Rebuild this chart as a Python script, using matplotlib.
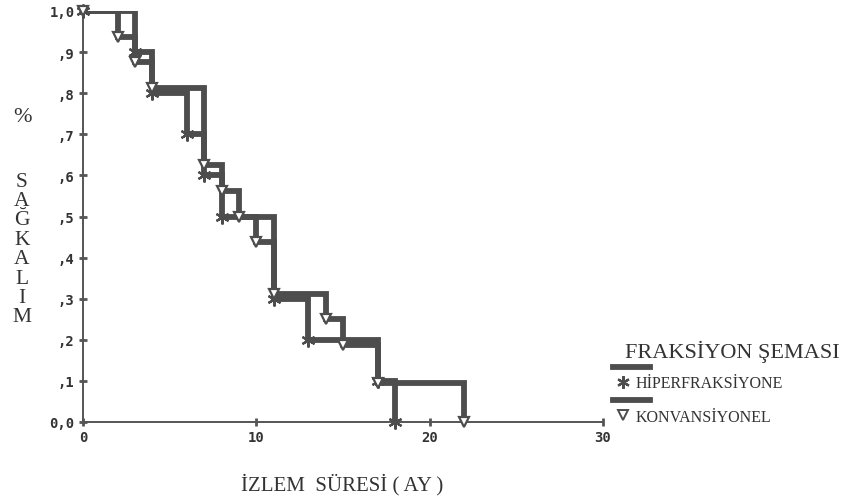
import matplotlib
matplotlib.use("Agg")
import matplotlib.pyplot as plt
from matplotlib.lines import Line2D

# Data: Kaplan-Meier steps
hiper_t = [0, 3, 4, 6, 7, 8, 11, 13, 17, 18]
hiper_s = [1.0, 0.9, 0.8, 0.7, 0.6, 0.5, 0.3, 0.2, 0.1, 0.0]
konv_t = [0, 2, 3, 4, 7, 8, 9, 10, 11, 14, 15, 17, 22]
konv_s = [1.0, 0.9375, 0.875, 0.8125, 0.625, 0.5625, 0.5, 0.4375, 0.3125, 0.25, 0.1875, 0.09375, 0.0]

x_ticks = [0, 10, 20, 30]
y_ticks = [0.0, 0.1, 0.2, 0.3, 0.4, 0.5, 0.6, 0.7, 0.8, 0.9, 1.0]
y_ticklabels = ["0,0", ",1", ",2", ",3", ",4", ",5", ",6", ",7", ",8", ",9", "1,0"]

LINE = "#4d4d4d"
AX = "#555555"
SERIF = ["Liberation Serif", "DejaVu Serif"]

fig = plt.figure(figsize=(8.43, 5.02), dpi=100)
ax = fig.add_axes([83 / 843, 1 - 423 / 502, 520 / 843, 411 / 502])

for t, s, mk, ms in [(hiper_t, hiper_s, (6, 2, 0), 10), (konv_t, konv_s, "v", 7)]:
    ax.step(t, s, where="post", color=LINE, lw=4.2, solid_joinstyle="miter",
            solid_capstyle="butt", zorder=3)
    ax.plot(t, s, linestyle="none", marker=mk, markersize=ms, color=LINE,
            markerfacecolor="white" if mk == "v" else LINE,
            markeredgewidth=1.6, zorder=4, clip_on=False)

ax.set_xlim(0, 30)
ax.set_ylim(0, 1.0)
ax.set_xticks(x_ticks)
ax.set_xticklabels([str(v) for v in x_ticks])
ax.set_yticks(y_ticks)
ax.set_yticklabels(y_ticklabels)
for sp in ["top", "right"]:
    ax.spines[sp].set_visible(False)
for sp in ["left", "bottom"]:
    ax.spines[sp].set_color(AX)
    ax.spines[sp].set_linewidth(1.4)
ax.tick_params(axis="both", direction="inout", length=6, width=2, color=AX,
               labelsize=10, labelcolor="#333333", pad=3)
for lab in ax.get_xticklabels() + ax.get_yticklabels():
    lab.set_fontweight("bold")
    lab.set_family(["DejaVu Sans Mono", "DejaVu Sans"])

# Y label: % and stacked letters
fig.text(22 / 843, 1 - 118 / 502, "%", fontsize=16, family=SERIF, color="#333333",
         ha="center", va="center")
fig.text(22 / 843, 1 - 250 / 502, "\n".join("SAĞKALIM"), fontsize=15.5, family=SERIF,
         color="#333333", ha="center", va="center", linespacing=1.03)

# X label
fig.text(342 / 843, 1 - 485 / 502, "İZLEM  SÜRESİ ( AY )", fontsize=15, family=SERIF,
         color="#333333", ha="center", va="center")

# Legend
fig.text(625 / 843, 1 - 352 / 502, "FRAKSİYON ŞEMASI", fontsize=16, family=SERIF,
         color="#333333", ha="left", va="center")
fig.add_artist(Line2D([613 / 843, 650 / 843], [1 - 368 / 502, 1 - 368 / 502],
                      color=LINE, lw=4.2, transform=fig.transFigure))
fig.add_artist(Line2D([613 / 843, 650 / 843], [1 - 401 / 502, 1 - 401 / 502],
                      color=LINE, lw=4.2, transform=fig.transFigure))
fig.add_artist(Line2D([623 / 843], [1 - 383 / 502], marker=(6, 2, 0), markersize=9,
                      color=LINE, markeredgewidth=1.6, linestyle="none",
                      transform=fig.transFigure))
fig.add_artist(Line2D([623 / 843], [1 - 416 / 502], marker="v", markersize=7,
                      color=LINE, markerfacecolor="white", markeredgewidth=1.4,
                      linestyle="none", transform=fig.transFigure))
fig.text(636 / 843, 1 - 384 / 502, "HİPERFRAKSİYONE", fontsize=11.5, family=SERIF,
         color="#333333", ha="left", va="center")
fig.text(636 / 843, 1 - 418 / 502, "KONVANSİYONEL", fontsize=11.5, family=SERIF,
         color="#333333", ha="left", va="center")

fig.savefig("out.png", dpi=100)
